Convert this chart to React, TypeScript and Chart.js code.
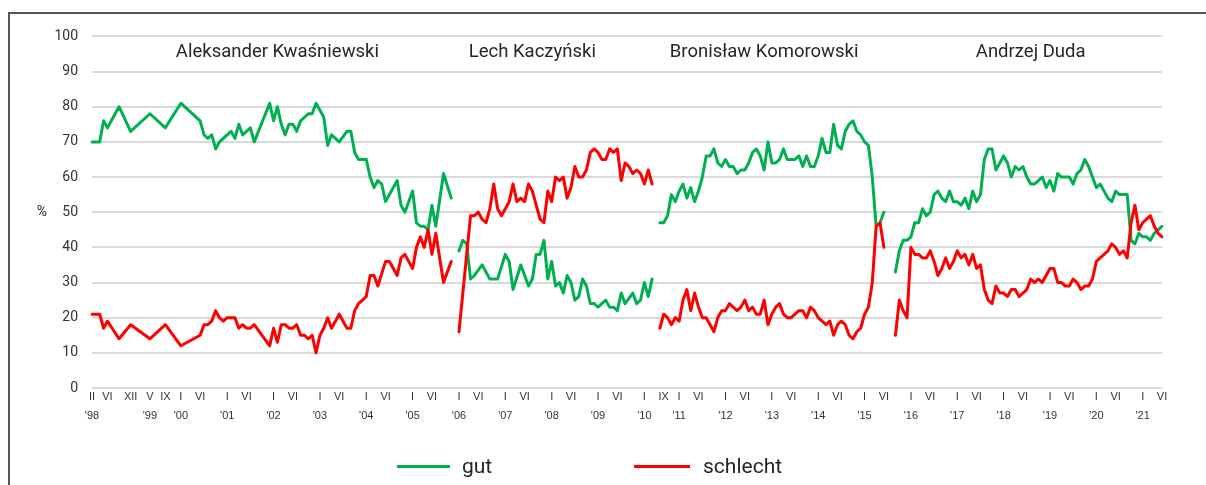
import { useEffect, useRef } from 'react';
import { Chart, registerables } from 'chart.js';

Chart.register(...registerables);

const GREEN = '#00B050';
const RED = '#FF0000';
const _ = null;

// monthly categories, Feb 1998 – Jun 2021 (May–Jul 2010 not on the axis)
const firstMonth = '1998-02';
const lastMonth = '2021-06';
const skippedMonths = ['2010-05', '2010-06', '2010-07'];

// tick labels: [month, roman numeral, year]
const tickLabels: [string, string, string][] = [
  ['1998-02', 'II', "'98"], ['1998-06', 'VI', ''], ['1998-12', 'XII', ''],
  ['1999-05', 'V', "'99"], ['1999-09', 'IX', ''],
  ['2000-01', 'I', "'00"], ['2000-06', 'VI', ''],
  ['2001-01', 'I', "'01"], ['2001-06', 'VI', ''],
  ['2002-01', 'I', "'02"], ['2002-06', 'VI', ''],
  ['2003-01', 'I', "'03"], ['2003-06', 'VI', ''],
  ['2004-01', 'I', "'04"], ['2004-06', 'VI', ''],
  ['2005-01', 'I', "'05"], ['2005-06', 'VI', ''],
  ['2006-01', 'I', "'06"], ['2006-06', 'VI', ''],
  ['2007-01', 'I', "'07"], ['2007-06', 'VI', ''],
  ['2008-01', 'I', "'08"], ['2008-06', 'VI', ''],
  ['2009-01', 'I', "'09"], ['2009-06', 'VI', ''],
  ['2010-01', 'I', "'10"], ['2010-09', 'IX', ''],
  ['2011-01', 'I', "'11"], ['2011-06', 'VI', ''],
  ['2012-01', 'I', "'12"], ['2012-06', 'VI', ''],
  ['2013-01', 'I', "'13"], ['2013-06', 'VI', ''],
  ['2014-01', 'I', "'14"], ['2014-06', 'VI', ''],
  ['2015-01', 'I', "'15"], ['2015-06', 'VI', ''],
  ['2016-01', 'I', "'16"], ['2016-06', 'VI', ''],
  ['2017-01', 'I', "'17"], ['2017-06', 'VI', ''],
  ['2018-01', 'I', "'18"], ['2018-06', 'VI', ''],
  ['2019-01', 'I', "'19"], ['2019-06', 'VI', ''],
  ['2020-01', 'I', "'20"], ['2020-06', 'VI', ''],
  ['2021-01', 'I', "'21"], ['2021-06', 'VI', ''],
];

// ratings per presidency (first value = start month)
const gutKwasniewski = [
  70, _, 70, 76, 74, _, _, 80, _, _,
  73, _, _, _, _, 78, _, _, _, 74,
  _, _, _, 81, _, _, _, _, 76, 72,
  71, 72, 68, 70, _, _, 73, 71, 75, 72,
  _, 74, 70, _, _, _, 81, 76, 80, 75,
  72, 75, 75, 73, 76, _, 78, 78, 81, _,
  77, 69, 72, _, 70, _, 73, 73, 67, 65,
  _, 65, 60, 57, 59, 58, 53, _, _, 59,
  52, 50, _, 56, 47, 46, 46, 45, 52, 46,
  _, 61, _, 54,
];
const schlechtKwasniewski = [
  21, _, 21, 17, 19, _, _, 14, _, _,
  18, _, _, _, _, 14, _, _, _, 18,
  _, _, _, 12, _, _, _, _, 15, 18,
  18, 19, 22, 20, 19, 20, _, 20, 17, 18,
  17, 17, 18, _, _, _, 12, 17, 13, 18,
  18, 17, 17, 18, 15, 15, 14, 15, 10, 15,
  17, 20, 17, _, 21, _, 17, 17, 22, 24,
  25, 26, 32, 32, 29, _, 36, 36, _, 32,
  37, 38, _, 34, 40, 43, 40, 45, 38, 44,
  _, 30, _, 36,
];
const gutKaczynski = [
  39, 42, 41, 31, 32, _, 35, _, 31, _,
  31, _, 38, 36, 28, _, 35, _, 29, 31,
  38, 38, 42, 31, 36, 29, 30, 27, 32, 30,
  25, 26, 31, 29, 24, 24, 23, _, 25, 23,
  23, 22, 27, 24, _, 27, 24, 25, 30, 26,
  31,
];
const schlechtKaczynski = [
  16, _, _, 49, 49, 50, 48, 47, 51, 58,
  51, 49, 51, 53, 58, 53, 54, 53, 58, 56,
  52, 48, 47, 56, 53, 60, 59, 60, 54, 57,
  63, 60, 60, 62, 67, 68, 67, 65, 65, 68,
  67, 68, 59, 64, 63, 61, 62, 61, 58, 62,
  58,
];
const gutKomorowski = [
  47, 47, 49, 55, 53, 56, 58, 54, 57, 53,
  56, 60, 66, 66, 68, 64, 63, 65, 63, 63,
  61, 62, 62, 64, 67, 68, 66, 62, 70, 64,
  64, 65, 68, 65, _, 65, 66, 63, 66, 63,
  63, 66, 71, 67, 67, 75, 69, 68, 73, 75,
  76, 73, 72, 70, 69, 60, 46, 47, 50,
];
const schlechtKomorowski = [
  17, 21, 20, 18, 20, 19, 25, 28, 22, 27,
  23, 20, 20, 18, 16, 20, 22, 22, 24, 23,
  22, 23, 25, 22, 23, 21, 21, 25, 18, 21,
  23, 24, 21, 20, 20, 21, 22, 22, 20, 23,
  22, 20, 19, 18, 19, 15, 18, 19, 18, 15,
  14, 16, 17, 21, 23, 30, 46, 47, 40,
];
const gutDuda = [
  33, 39, 42, 42, 43, 47, 47, 51, 49, 50,
  55, 56, 54, 53, 56, 53, 53, 52, 54, 51,
  56, 53, 55, 65, 68, 68, 62, 64, 66, 64,
  60, 63, 62, 63, 60, 58, 58, 59, 60, 57,
  59, 56, 61, 60, 60, 60, 58, 61, 62, 65,
  63, 60, 57, 58, 56, 54, 53, 56, 55, 55,
  55, 42, 41, 44, 43, 43, 42, 44, 45, 46,
];
const schlechtDuda = [
  15, 25, 22, 20, 40, 38, 38, 37, 37, 39,
  36, 32, 34, 37, 34, 36, 39, 37, 38, 35,
  38, 34, 35, 28, 25, 24, 29, 27, 27, 26,
  28, 28, 26, 27, 28, 31, 30, 31, 30, 32,
  34, 34, 30, 30, 29, 29, 31, 30, 28, 29,
  29, 31, 36, 37, 38, 39, 41, 40, 38, 39,
  37, 47, 52, 45, 47, 48, 49, 46, 44, 43,
];

const presidencies = [
  { name: 'Aleksander Kwaśniewski', start: '1998-02', labelAt: '2002-02', gut: gutKwasniewski, schlecht: schlechtKwasniewski },
  { name: 'Lech Kaczyński', start: '2006-01', labelAt: '2007-08', gut: gutKaczynski, schlecht: schlechtKaczynski },
  { name: 'Bronisław Komorowski', start: '2010-08', labelAt: '2012-11', gut: gutKomorowski, schlecht: schlechtKomorowski },
  { name: 'Andrzej Duda', start: '2015-09', labelAt: '2018-08', gut: gutDuda, schlecht: schlechtDuda },
];
const nameLevel = 95.5;

function monthKey(y: number, m: number) {
  return `${y}-${String(m).padStart(2, '0')}`;
}
function buildCategories(): string[] {
  const out: string[] = [];
  let [y, m] = firstMonth.split('-').map(Number);
  while (true) {
    const k = monthKey(y, m);
    if (!skippedMonths.includes(k)) out.push(k);
    if (k === lastMonth) break;
    m += 1;
    if (m > 12) { m = 1; y += 1; }
  }
  return out;
}

const categories = buildCategories();
const tickMap = new Map(tickLabels.map((t) => [t[0], t]));

function buildSeries(key: 'gut' | 'schlecht') {
  const arr: (number | null)[] = categories.map(() => null);
  presidencies.forEach((p) => {
    const off = categories.indexOf(p.start);
    p[key].forEach((v, i) => { arr[off + i] = v; });
  });
  return arr;
}
const termStarts = presidencies.slice(1).map((p) => categories.indexOf(p.start));
const breakAtTerm = (ctx: any) =>
  termStarts.some((s) => ctx.p0DataIndex < s && ctx.p1DataIndex >= s) ? 'rgba(0,0,0,0)' : undefined;

const overlayPlugin = {
  id: 'overlay',
  afterDatasetsDraw(chart: any) {
    const { ctx, scales } = chart;
    const x = scales.x;
    const y = scales.y;
    ctx.save();
    ctx.fillStyle = '#262626';
    ctx.textAlign = 'center';
    ctx.textBaseline = 'middle';
    ctx.font = '18.5px Roboto, sans-serif';
    presidencies.forEach((p) => {
      ctx.fillText(p.name, x.getPixelForValue(categories.indexOf(p.labelAt)), y.getPixelForValue(nameLevel));
    });
    ctx.font = '14px Roboto, sans-serif';
    ctx.fillText('%', 32, y.getPixelForValue(50));
    ctx.restore();
  },
};

export default function App() {
  const ref = useRef<HTMLCanvasElement>(null);
  useEffect(() => {
    const chart = new Chart(ref.current as HTMLCanvasElement, {
      type: 'line',
      data: {
        labels: categories,
        datasets: [
          {
            label: 'schlecht',
            data: buildSeries('schlecht'),
            borderColor: RED,
            backgroundColor: RED,
            order: 0,
            segment: { borderColor: breakAtTerm },
          },
          {
            label: 'gut',
            data: buildSeries('gut'),
            borderColor: GREEN,
            backgroundColor: GREEN,
            order: 1,
            segment: { borderColor: breakAtTerm },
          },
        ],
      },
      options: {
        animation: false,
        responsive: true,
        maintainAspectRatio: false,
        spanGaps: true,
        layout: { padding: { top: 20, right: 8, bottom: 0, left: 0 } },
        elements: {
          line: { borderWidth: 3, tension: 0, borderJoinStyle: 'round', borderCapStyle: 'round' },
          point: { radius: 0, hoverRadius: 0 },
        },
        plugins: { legend: { display: false }, tooltip: { enabled: false } },
        scales: {
          x: {
            type: 'category',
            offset: false,
            grid: { display: false, drawTicks: false },
            border: { display: false },
            afterFit: (s: any) => { s.height = 52; },
            ticks: {
              autoSkip: false,
              maxRotation: 0,
              minRotation: 0,
              padding: 0,
              color: '#333333',
              font: { family: "'Liberation Sans Narrow', 'Liberation Sans', Arial, sans-serif", size: 11, lineHeight: 1.68 },
              callback: (_v: any, index: number) => {
                const t = tickMap.get(categories[index]);
                if (!t) return '';
                return t[2] ? [t[1], t[2]] : t[1];
              },
            },
          },
          y: {
            min: 0,
            max: 100,
            grid: { color: '#D9D9D9', lineWidth: 2, drawTicks: false },
            border: { display: false },
            afterFit: (s: any) => { s.width = 82; },
            ticks: {
              stepSize: 10,
              padding: 14,
              color: '#333333',
              font: { family: 'Roboto, sans-serif', size: 14 },
            },
          },
        },
      },
      plugins: [overlayPlugin],
    });
    return () => chart.destroy();
  }, []);

  const legendText = { fontFamily: 'Roboto, sans-serif', fontSize: 21, color: '#262626' };
  return (
    <div style={{ position: 'relative', height: 477 }}>
      <div
        style={{
          position: 'fixed', left: 8, top: 12, width: 1400, height: 900,
          borderLeft: '2px solid #555555', borderTop: '2px solid #555555',
        }}
      />
      <div style={{ position: 'absolute', left: 2, top: 6, width: 1160, height: 426 }}>
        <canvas ref={ref} />
      </div>
      <div style={{ position: 'absolute', left: 389, top: 443, height: 30, display: 'flex', alignItems: 'center' }}>
        <div style={{ width: 53, height: 3, background: GREEN, marginRight: 12 }} />
        <span style={legendText}>gut</span>
      </div>
      <div style={{ position: 'absolute', left: 626, top: 443, height: 30, display: 'flex', alignItems: 'center' }}>
        <div style={{ width: 56, height: 3, background: RED, marginRight: 13 }} />
        <span style={legendText}>schlecht</span>
      </div>
    </div>
  );
}
